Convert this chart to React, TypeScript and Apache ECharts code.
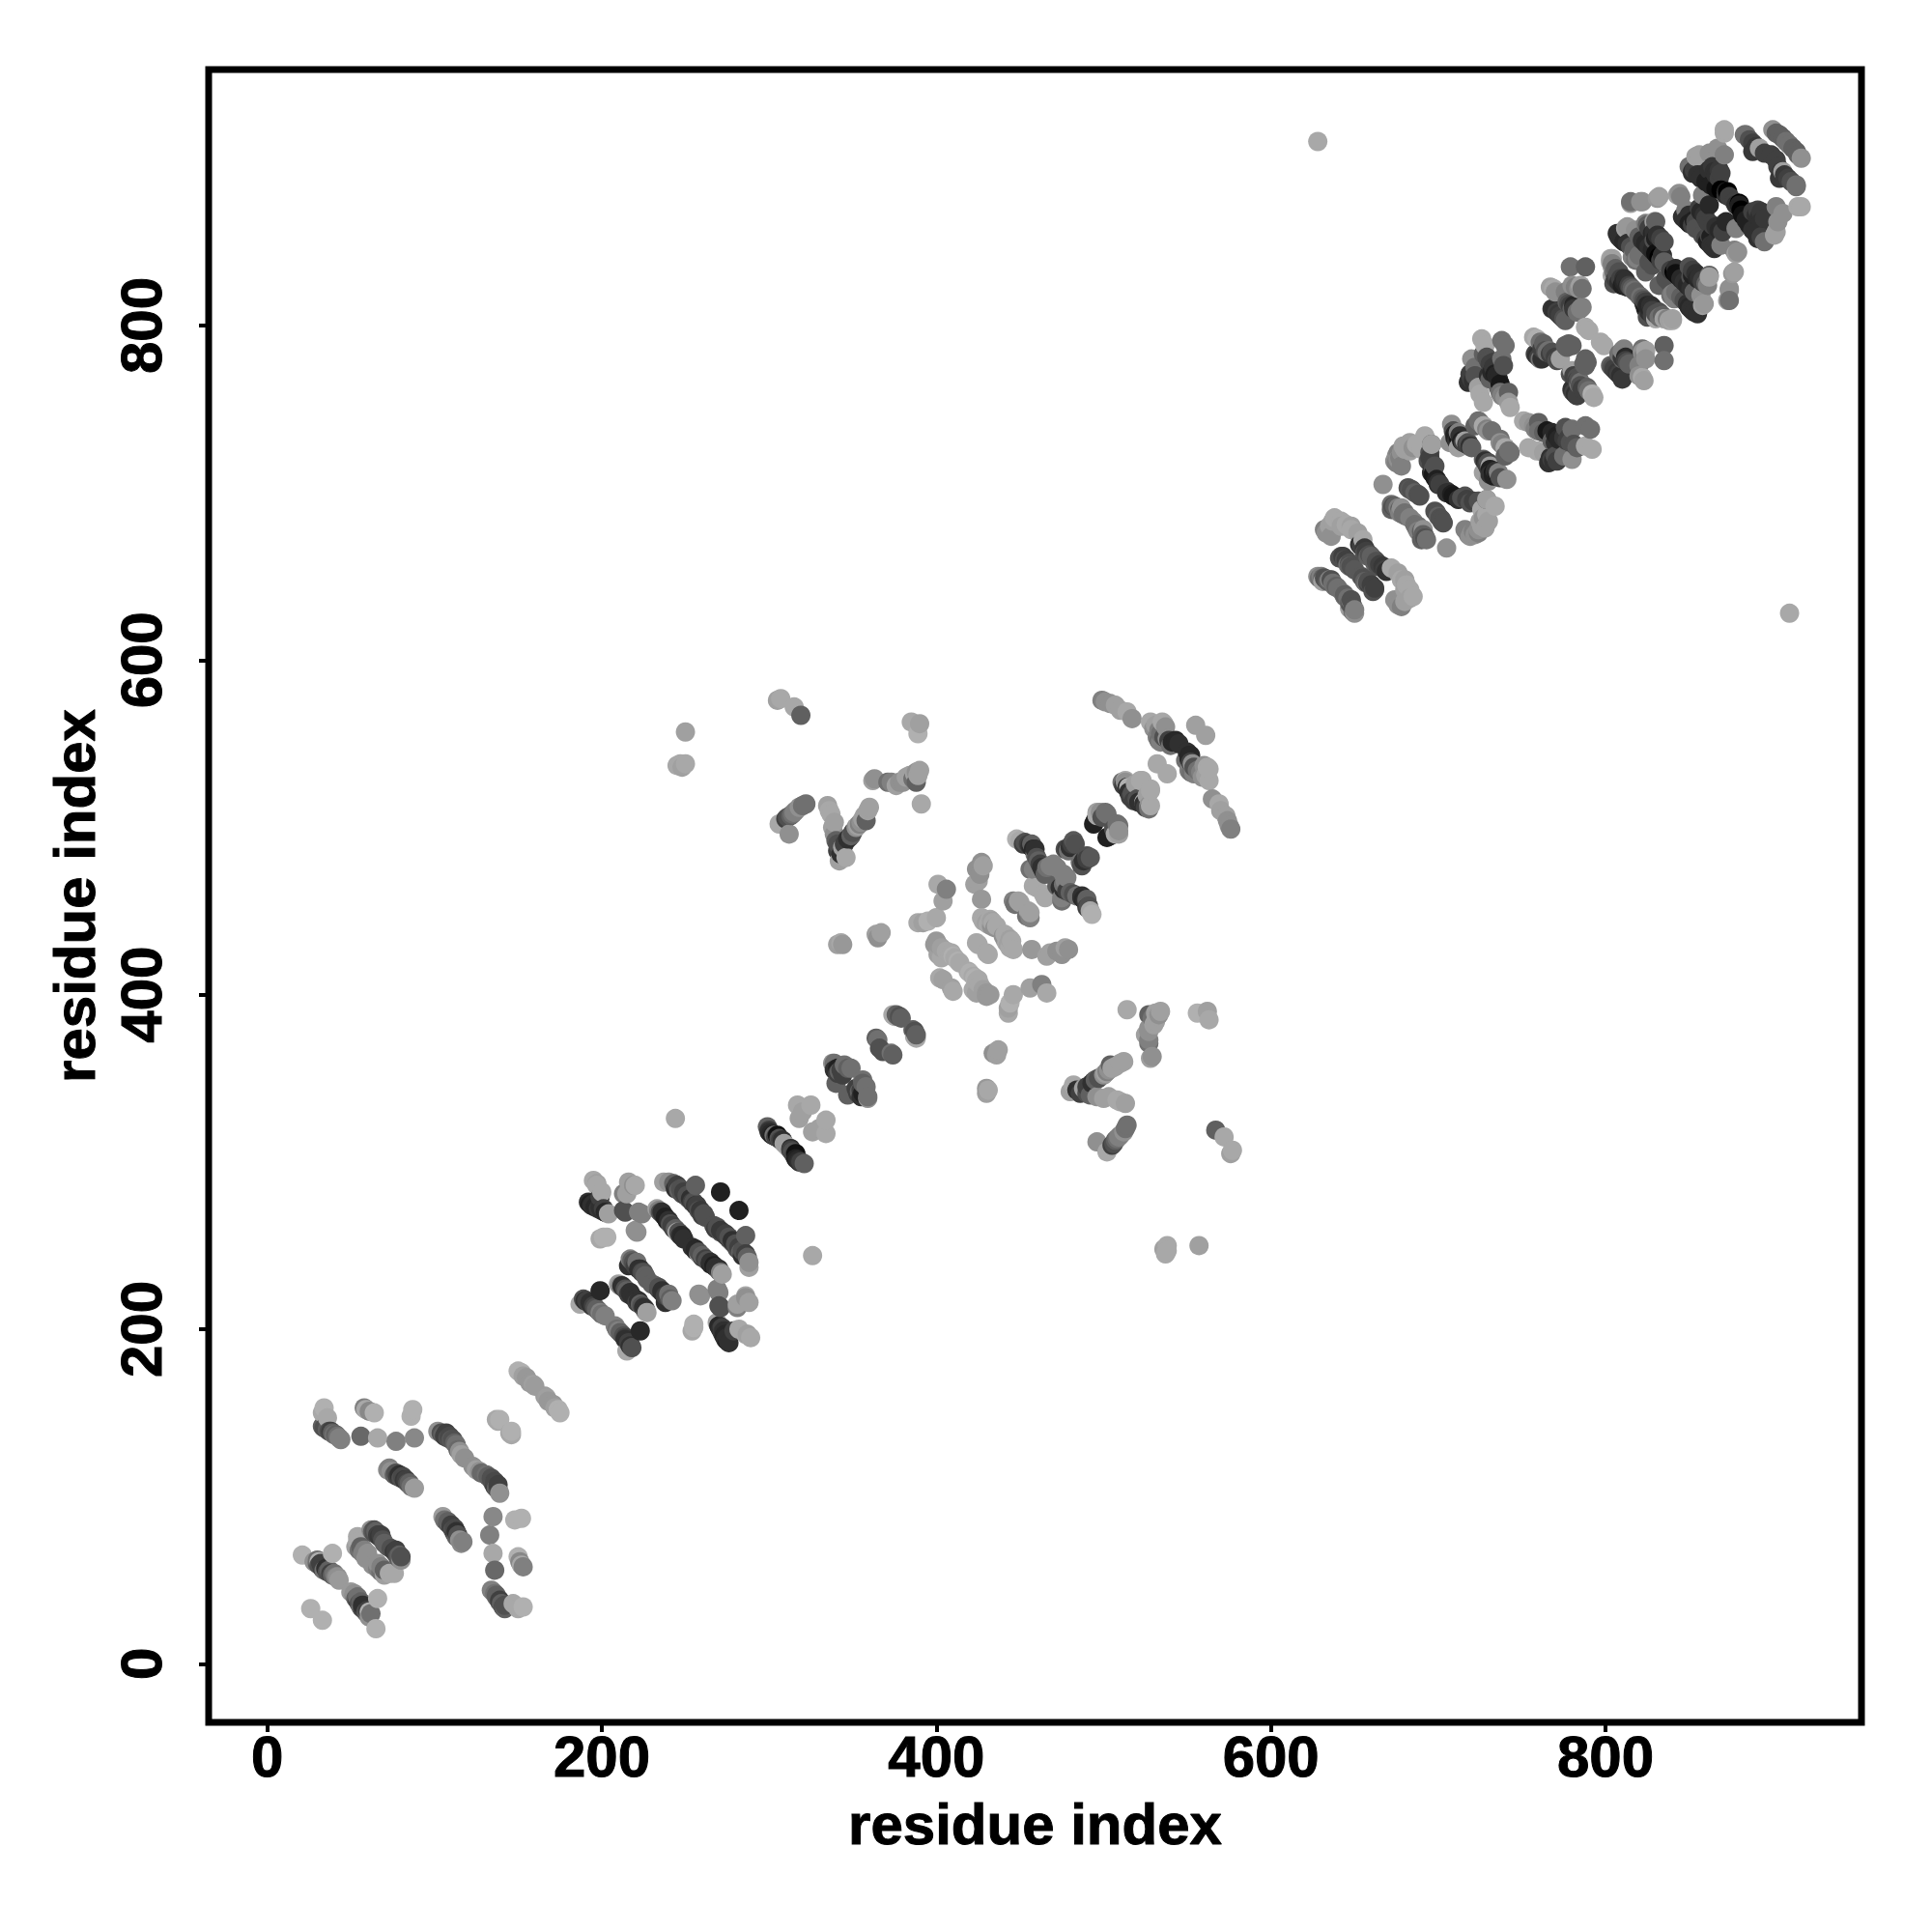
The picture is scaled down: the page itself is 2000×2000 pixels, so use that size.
import React, { useEffect, useRef } from "react";
import * as echarts from "echarts";

type Contact = [number, number, number];

const xTicks = [0, 200, 400, 600, 800];
const yTicks = [0, 200, 400, 600, 800];
const axisTitle = "residue index";

const domainA: Contact[] = [
  [21,65,0xb0],[26,33,0xb0],[39,66,0xb0],[31,61,0xb0],
  [28,61,0x90],[30,60,0x60],[31,59,0x50],[33,57,0x40],[34,56,0x70],[36,55,0x50],[38,54,0x40],[39,53,0x60],[41,52,0x80],[43,50,0x9a],
  [30,62,0x70],[32,60,0x40],[35,57,0x30],[37,56,0x60],[40,54,0x70],[42,52,0x90],
  [62,80,0x90],[63,79,0x60],[64,78,0x50],[66,77,0x40],[67,76,0x38],[69,74,0x50],[70,72,0x60],[64,80,0x50],[65,79,0x60],[68,77,0x40],
  [54,76,0xa8],[54,73,0xa8],[53,70,0xa0],[55,68,0x70],[57,66,0x80],[59,63,0x90],[56,70,0x60],[58,68,0x80],[60,66,0x90],
  [33,142,0x60],[34,141,0x50],[36,140,0x60],[37,139,0x50],[39,138,0x60],[40,137,0x70],[42,136,0x70],[44,134,0x80],[35,142,0x50],[38,139,0x40],[41,137,0x60],[43,135,0x80],
  [34,153,0xb0],[36,147,0xa8],[33,150,0xa8],
  [56,136,0x68],[66,135,0xa8],[77,133,0x80],[88,135,0x88],
  [58,153,0x80],[59,152,0xa8],[64,150,0xb0],[86,148,0xb0],[87,152,0xb0],[61,151,0x88],
  [72,116,0x88],[74,115,0x90],[76,113,0x60],[78,112,0x40],[80,111,0x50],[82,110,0x38],[84,108,0x50],[86,106,0x70],[88,105,0x9c],
  [73,117,0x80],[77,114,0x50],[79,113,0x30],[81,112,0x48],[83,110,0x40],[85,108,0x60],
  [102,139,0x90],[104,138,0x50],[105,137,0x60],[106,136,0x40],[108,135,0x50],[110,134,0x58],[112,132,0x60],[114,128,0x68],[116,125,0xa0],[118,123,0x90],
  [107,138,0x40],[109,136,0x48],[111,134,0x50],[113,131,0x70],[115,127,0x90],
  [138,145,0xa8],[137,146,0xa8],[139,146,0xb0],
  [150,175,0xb0],[152,174,0xb0],[153,172,0xa0],[155,171,0x98],[157,168,0x98],[159,167,0xa0],[160,166,0x9c],
];

const domainB: Contact[] = [
  [195,289,0xa8],[197,287,0xa0],[200,282,0xa8],
  [192,276,0x30],[193,275,0x20],[195,275,0x30],[197,274,0x28],[199,273,0x30],[201,272,0x40],
  [194,274,0x30],[196,273,0x28],[198,272,0x38],[200,271,0x30],[202,270,0x48],[204,269,0xa0],
  [216,288,0xa0],[220,286,0xa8],[213,281,0x80],[213,271,0x50],[222,270,0x80],[220,259,0x90],[201,255,0xb0],[199,254,0xa8],
  [237,288,0xa0],[240,288,0x90],[243,287,0x60],[244,284,0x30],[256,286,0x60],[246,283,0x60],[248,281,0x50],[250,280,0x40],[252,278,0x50],[254,276,0x40],[256,274,0x38],[258,271,0x50],[260,268,0x40],[262,267,0x50],
  [245,286,0x40],[247,284,0x50],[249,282,0x40],[251,280,0x50],[253,278,0x30],[255,276,0x50],[257,274,0x40],[259,271,0x38],[261,269,0x50],
  [271,282,0x20],
  [233,272,0xa0],[235,270,0x50],[237,268,0x30],[239,265,0x20],[241,263,0x50],[243,260,0x40],[245,258,0xa0],[247,256,0x30],[249,254,0x30],
  [234,271,0x80],[236,270,0x30],[238,267,0x20],[240,265,0x30],[242,262,0x40],[244,260,0x60],[246,258,0x50],[248,256,0x28],
  [217,242,0x80],[219,240,0x50],[221,240,0x70],[222,236,0x30],[224,234,0x48],[226,232,0x60],[216,238,0x30],
  [218,241,0x60],[220,238,0x40],[223,236,0x30],[225,234,0x50],[227,230,0x60],
  [187,215,0xa8],[189,218,0x50],[191,217,0x40],[193,216,0x30],[195,214,0x40],[197,212,0x60],[199,210,0x80],[202,208,0x80],[199,223,0x28],
  [190,217,0x30],[192,216,0x40],[194,214,0x30],[196,213,0x50],[198,211,0x60],[200,209,0x70],
  [210,227,0xa0],[211,226,0x88],[213,225,0x30],[215,223,0x60],[216,221,0x40],[218,220,0x30],[212,226,0x30],[214,224,0x50],[217,222,0x30],
  [221,258,0x90],[224,269,0x80],[214,270,0x50],[219,286,0x90],[215,281,0xa0],[203,255,0xb0],[202,270,0x28],[197,286,0xa8],[199,279,0x40],
  [244,326,0xa8],
];

const domainC: Contact[] = [
  [299,321,0x60],[300,319,0x40],[301,317,0x28],[303,316,0x70],[305,316,0x10],[306,314,0x50],[308,313,0x30],[309,311,0xa0],
  [300,318,0x30],[302,316,0x20],[304,315,0x40],[307,313,0x40],
  [317,334,0xa8],[325,334,0xa8],[318,326,0xa0],[320,330,0xa0],
  [338,359,0x90],[341,356,0x20],[343,355,0x40],[349,356,0x70],[340,347,0x60],[342,354,0x60],[347,356,0x60],[339,359,0x70],
  [339,355,0x30],[341,353,0x40],[344,352,0x40],[345,358,0x70],
  [374,388,0xa8],[377,387,0x60],[379,386,0x60],[375,387,0xa8],[364,374,0x60],[365,373,0x70],[366,368,0x50],[376,388,0x60],[378,387,0x50],
  [250,557,0xa0],[245,537,0xa8],[250,538,0xa8],[248,536,0xa0],[247,538,0xa8],
  [305,576,0xa0],[307,577,0xa8],[315,572,0xa8],[319,567,0x60],
  [385,563,0xa8],[390,562,0xa0],[389,556,0xb0],
  [362,528,0xa0],[371,527,0x70],[376,525,0xa0],[384,531,0xa0],[390,534,0xa0],[388,527,0x60],[380,527,0x90],[386,529,0x70],[391,514,0xa8],
  [363,529,0x90],[373,527,0x80],[378,527,0x90],[382,530,0xa0],[387,532,0xa0],[388,533,0x90],[389,531,0xa0],
  [322,514,0x70],[315,509,0x80],[310,505,0x40],[306,502,0xa8],[312,496,0x90],[313,507,0x60],[318,512,0x90],[311,506,0x50],[314,508,0x70],[316,510,0x80],[320,513,0x70],
  [335,513,0xa0],[337,508,0xa8],[338,500,0xa0],[340,492,0x60],[346,482,0xa8],[342,480,0xa0],[344,488,0xa0],[341,486,0x40],[343,484,0x30],
  [341,490,0x50],[345,490,0x40],[347,493,0x30],[349,495,0x60],[353,501,0xa0],[355,503,0x90],[357,507,0xa0],[359,510,0xa0],[339,496,0x90],[336,510,0xa8],[339,503,0xa0],
  [348,494,0x30],[352,500,0x90],[356,505,0xa0],[360,512,0xa0],[358,504,0x60],[350,497,0x50],[354,502,0x80],
  [341,430,0xa0],[344,430,0x98],[343,431,0xa8],[364,436,0xa0],[367,437,0xa0],[365,434,0x90],
];

const domainD: Contact[] = [
  [389,443,0xa8],[400,446,0xa8],[395,444,0xb0],[392,443,0xa0],
  [401,466,0xa8],[406,463,0x80],[404,456,0xa0],
  [427,479,0x90],[424,475,0x90],[423,466,0xa0],[425,468,0xa0],[427,457,0x98],[428,477,0xa0],[426,472,0x90],
  [446,456,0x80],[449,456,0xa0],[450,455,0xa0],[447,454,0x70],
  [432,445,0xa8],[427,446,0xa8],[433,441,0x90],[434,443,0xa8],[429,444,0xa8],[435,440,0x90],
  [428,444,0xa8],[430,443,0xa0],[431,442,0xa8],[433,444,0xa0],[436,441,0xa8],
  [400,432,0x98],[401,424,0xa0],[409,425,0xa8],[413,420,0xb0],[414,419,0xa8],[410,423,0xb0],[402,410,0xa8],[404,409,0xa0],[403,422,0xa8],[401,430,0x98],[424,431,0xa8],[425,430,0xa8],
  [403,428,0xa0],[406,426,0xa8],[408,424,0xa8],[411,422,0xa8],[399,430,0x98],
  [448,493,0xb0],[450,492,0xa8],[453,491,0x50],[455,490,0x40],[457,488,0x28],[458,487,0x28],[457,490,0x60],[459,484,0x70],[461,480,0x60],[463,476,0x30],[464,474,0x30],
  [452,490,0x40],[456,489,0x30],[459,487,0x30],[460,482,0x50],[462,478,0x40],[465,472,0x60],[466,476,0x70],[468,477,0x80],
  [456,475,0x70],[470,478,0x80],[472,476,0x80],[458,465,0xa8],[460,464,0xa8],[458,475,0x80],
  [482,492,0x58],[478,487,0x40],[483,490,0x50],[479,486,0x70],[480,488,0x30],[481,490,0x40],[477,487,0x50],
  [496,509,0xa0],[501,509,0x70],[494,502,0x20],[502,508,0x70],[496,507,0xa8],[495,504,0x20],[498,509,0x90],[499,506,0x50],
  [499,576,0x80],[501,575,0x90],[504,574,0x90],[507,573,0xa0],[510,570,0xa0],[514,569,0xa8],[517,565,0x90],[528,563,0xa8],[535,563,0xa8],[532,554,0x80],[530,559,0x90],[533,552,0x70],[543,552,0x28],[543,551,0x28],[555,561,0xa0],[536,562,0xa8],[538,553,0x90],[534,551,0x80],[532,538,0xa8],[540,549,0x70],
  [537,560,0x90],[534,556,0x70],[536,554,0x50],[539,552,0x40],[541,551,0x28],[545,550,0x30],[531,561,0xa0],[533,558,0x80],
  [513,528,0xa8],[515,524,0xb0],[522,528,0xa8],[523,528,0xa8],[516,518,0x40],[515,521,0x30],[513,527,0x90],[511,527,0x70],[512,525,0x40],[514,524,0x30],[517,520,0x50],[519,526,0xa0],
];

const domainE: Contact[] = [
  [628,910,0xa8],
  [633,676,0x90],[635,680,0xa0],[638,685,0xa8],[642,683,0xa8],[645,681,0xa8],[648,680,0xa0],[652,676,0xa0],[654,668,0x40],[656,667,0x38],[656,664,0x50],[658,662,0x60],[660,662,0x60],
  [632,678,0x80],[634,677,0x90],[637,683,0xa0],[653,669,0x30],[657,665,0x40],[659,663,0x50],
  [641,661,0x50],[642,662,0x50],[644,660,0x50],[646,658,0x40],[647,658,0x50],[648,656,0x50],[650,654,0x58],[646,657,0x70],[643,662,0x40],[645,660,0x40],[647,656,0x60],[649,655,0x50],
  [628,650,0x90],[630,650,0x80],[631,649,0x60],[633,648,0x50],[635,648,0x80],[636,648,0x50],[638,644,0x70],[640,643,0x70],[631,647,0xa0],[629,649,0x70],[632,649,0x50],[634,647,0x60],[637,646,0x70],[639,644,0x60],
  [655,672,0xa8],[648,678,0xa8],[642,680,0xa0],[636,674,0x90],
  [667,705,0x90],[679,728,0xa0],[674,719,0x90],[675,722,0x90],[676,724,0x80],[692,734,0xa8],[687,729,0xa8],[683,730,0xa0],[696,729,0x60],[694,719,0x50],[697,714,0x50],[698,709,0x18],[700,706,0x30],
  [675,718,0x80],[676,720,0x90],[677,721,0x80],[678,724,0x90],[680,726,0xa0],[685,727,0x90],[695,724,0x50],[695,721,0x40],[696,717,0x40],[696,712,0x30],[697,711,0x18],[699,708,0x20],[701,705,0x40],
  [683,702,0x58],[685,701,0x50],[688,699,0x50],[672,693,0x70],[674,692,0x60],[676,691,0x80],[678,691,0x90],[677,690,0x60],[680,688,0x70],[683,685,0x80],
  [672,690,0x60],[673,692,0x50],[675,691,0x60],[677,688,0x80],[679,687,0x70],[681,686,0x70],[682,703,0x50],[684,702,0x50],[686,700,0x60],[689,698,0x50],
  [678,716,0x80],[683,725,0xa0],[690,726,0xa8],[696,729,0xa0],[700,705,0x30],[698,716,0x50],
  [708,741,0x90],[712,733,0x18],[718,730,0x50],[724,743,0x70],[727,740,0x80],[732,737,0x70],[727,740,0xa8],[719,728,0x30],[716,731,0xa0],[712,736,0x80],[712,727,0xa0],[707,730,0x90],[710,735,0x20],[714,731,0x20],
  [710,733,0x20],[711,731,0x30],[713,734,0x30],[715,730,0x40],[717,729,0x40],[720,727,0x60],[709,737,0x50],[722,740,0x60],[725,742,0x70],[729,738,0x80],[730,737,0x90],
  [743,751,0xa8],[727,754,0xa8],[737,765,0x18],[739,776,0x50],[740,788,0x70],[728,788,0xa8],[722,775,0x70],[718,766,0x30],[730,770,0x30],[735,770,0x30],[742,760,0x60],
  [719,769,0x30],[720,768,0x40],[721,767,0x30],[722,770,0x50],[724,763,0xa0],[732,772,0x28],[734,771,0x20],[736,768,0x28],[736,763,0x60],[738,758,0x80],[733,778,0x40],[727,783,0x60],[730,779,0x50],[731,777,0x40],
  [726,792,0xa8],[738,791,0x70],[720,780,0x90],[729,781,0x50],[738,780,0x70],[735,770,0x28],[719,771,0x40],[725,759,0xa8],[737,760,0x70],[742,754,0x98],[733,775,0x38],[731,768,0x60],[740,757,0x90],
];

const domainF: Contact[] = [
  [757,793,0xa8],[766,785,0x70],[772,780,0x48],[760,781,0x40],[778,789,0x60],[780,788,0x60],[773,780,0xa0],[765,784,0x70],[759,792,0xb0],[761,790,0x70],[763,789,0x60],[769,783,0x50],[761,780,0x70],
  [758,783,0x40],[759,782,0x30],[762,780,0x30],[762,786,0x40],[764,785,0x50],[767,783,0x40],[770,781,0x40],[771,779,0x50],[768,784,0x50],[776,788,0x60],[777,787,0x60],
  [788,799,0xa8],[790,797,0xa8],[786,811,0x80],[785,824,0xa0],[788,835,0x60],[779,835,0x70],[781,812,0x28],[769,822,0xa8],[769,810,0x30],
  [768,810,0x38],[767,823,0xa0],[778,813,0x50],[786,822,0x70],[771,808,0x40],[773,806,0x40],[775,804,0x50],[780,810,0x60],
  [770,809,0x30],[772,807,0x38],[774,805,0x40],[776,803,0x60],[777,814,0x60],[779,812,0x40],[781,810,0x38],[783,808,0x70],[785,810,0x80],[776,820,0x80],[780,824,0x90],[782,823,0x80],[784,822,0x90],[770,820,0x90],
  [803,840,0xa8],[803,838,0xa0],[804,835,0xa0],[805,825,0x50],[813,823,0x28],[817,821,0x70],[812,825,0x28],[824,832,0x60],[818,839,0x70],[830,862,0x60],[815,873,0xa0],[822,874,0x90],[832,877,0xa0],[812,858,0xa0],[810,851,0x30],[824,861,0x80],[829,851,0x50],[832,841,0x00],[834,842,0x30],[819,840,0x80],[829,862,0xa0],[831,876,0x98],[821,874,0x90],[815,874,0x70],[813,859,0x98],[811,828,0x30],[804,830,0xa8],[804,840,0xa0],
  [806,828,0x40],[808,826,0x30],[810,824,0x20],[812,827,0x30],[815,823,0x50],[818,820,0x60],[804,837,0x80],[806,834,0x60],[808,832,0x50],[820,842,0x70],[816,841,0x80],[826,838,0x50],[828,836,0x50],
  [807,855,0x30],[808,853,0x30],[805,832,0x70],[807,830,0x50],[809,828,0x40],[811,826,0x28],[814,824,0x40],[816,822,0x60],[826,858,0x40],[828,855,0x28],[830,852,0x20],
  [809,852,0x30],[811,850,0x28],[813,849,0x30],[815,847,0x50],[817,845,0x60],[818,857,0x90],[820,853,0x60],[822,851,0x30],[824,849,0x28],[826,847,0x30],[828,845,0x28],[830,843,0x10],[831,842,0x10],[833,839,0x40],[835,838,0x60],
  [825,860,0x60],[827,858,0x40],[829,856,0x30],[831,854,0x30],[833,852,0x40],[835,850,0x50],
  [843,878,0xa0],[854,901,0xa0],[862,903,0x90],[871,915,0xa8],[871,902,0x80],[852,892,0x30],[869,891,0x40],[873,880,0x00],[862,872,0x28],[854,862,0x48],[847,864,0x30],[860,864,0x40],[853,863,0x20],[858,878,0x80],[844,879,0x90],[848,869,0x80],[872,880,0x20],[868,893,0x38],[867,906,0x90],[871,917,0xa8],[862,893,0x30],[856,902,0xa0],[852,891,0x30],
  [845,877,0x80],[846,865,0x30],[848,863,0x30],[850,866,0x30],[850,861,0x20],[852,860,0x40],[854,858,0x50],[856,870,0x40],[857,868,0x28],[859,866,0x30],[861,862,0x40],[855,890,0x30],[853,893,0x40],[857,888,0x30],[860,886,0x20],[863,884,0x20],[866,882,0x10],[869,881,0x00],[872,878,0x30],[874,877,0x40],[850,895,0x70],[865,892,0x30],[864,895,0x38],[866,890,0x30],[868,888,0x40],
  [883,914,0x70],[884,914,0x70],[886,911,0x50],[888,909,0x40],[888,904,0x38],[890,907,0x38],[892,905,0x38],[892,906,0xa0],[895,903,0x40],[899,902,0x40],
  [900,917,0x90],[902,915,0x60],[904,914,0x60],[906,912,0x60],[908,910,0x70],
];

const contacts = [...domainA, ...domainB, ...domainC, ...domainD, ...domainE, ...domainF];

const points = contacts
  .flatMap(([i, j, g]) => [
    { value: [i, j], itemStyle: { color: `rgb(${g},${g},${g})`, opacity: 1 } },
    { value: [j, i], itemStyle: { color: `rgb(${g},${g},${g})`, opacity: 1 } },
  ])
  .sort((a, b) => a.value[0] - b.value[0]);

const font = "Liberation Sans";

function axis(ticks: number[], gap: number, margin: number, rotate: number) {
  return {
    type: "value" as const,
    min: -35,
    max: 953,
    name: axisTitle,
    nameLocation: "middle" as const,
    nameGap: gap,
    nameTextStyle: { fontFamily: font, fontWeight: "bold" as const, fontSize: 60, color: "#000", textBorderColor: "#000", textBorderWidth: 1 },
    splitLine: { show: false },
    axisLine: { show: false, onZero: false },
    axisTick: { show: true, length: 10, customValues: ticks, lineStyle: { color: "#000", width: 4 } },
    axisLabel: {
      show: true,
      customValues: ticks,
      margin,
      rotate,
      fontFamily: font,
      fontWeight: "bold" as const,
      fontSize: 60,
      color: "#000",
      textBorderColor: "#000",
      textBorderWidth: 1,
    },
  };
}

export default function App() {
  const ref = useRef<HTMLDivElement>(null);
  useEffect(() => {
    const chart = echarts.init(ref.current!, undefined, { renderer: "svg" });
    chart.setOption({
      animation: false,
      backgroundColor: "#fff",
      grid: {
        show: true,
        left: 216,
        right: 73,
        top: 72,
        bottom: 217,
        borderColor: "#000",
        borderWidth: 7,
        backgroundColor: "transparent",
      },
      xAxis: axis(xTicks, 75, 5, 0),
      yAxis: axis(yTicks, 107, 40, 90),
      series: [
        {
          type: "scatter",
          symbol: "circle",
          symbolSize: 20,
          data: points,
          clip: false,
          silent: true,
        },
      ],
    });
    return () => chart.dispose();
  }, []);
  return <div ref={ref} style={{ position: "fixed", left: 0, top: 0, width: 2000, height: 2000 }} />;
}
